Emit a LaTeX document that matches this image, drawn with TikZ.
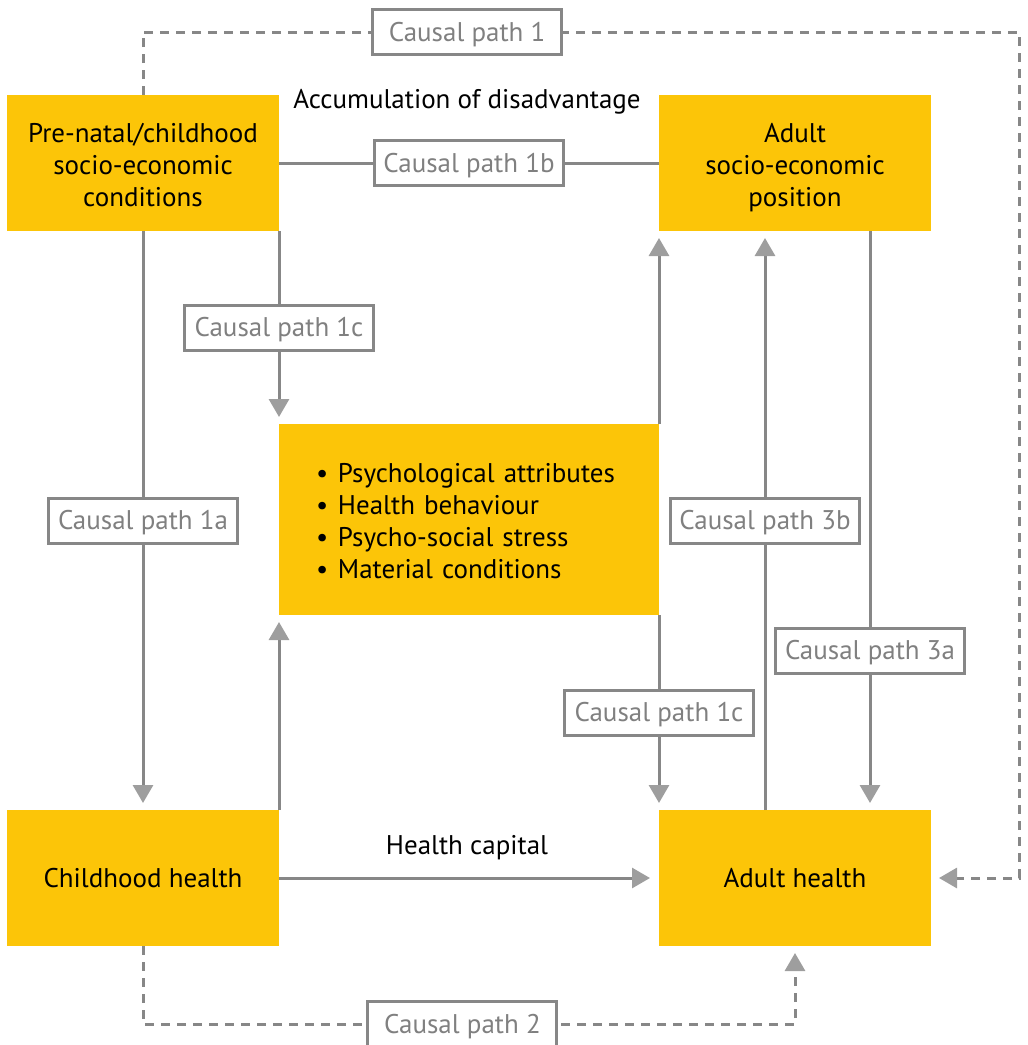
\documentclass[tikz,border=0pt]{standalone}
\usepackage{fontspec}
\setmainfont{PT Sans}
\usetikzlibrary{arrows.meta,positioning,calc}
\definecolor{boxyellow}{RGB}{252,197,8}
\definecolor{linegrey}{RGB}{135,135,135}
\definecolor{tipgrey}{RGB}{158,158,158}
\definecolor{labelgrey}{RGB}{128,128,128}
\newcommand{\pathstrut}{\rule[-7pt]{0pt}{32pt}}

\begin{document}
\begin{tikzpicture}[x=1pt,y=-1pt,line width=3pt,font=\fontsize{27}{32}\selectfont,node distance=380pt]
    \tikzstyle{txt}=[execute at begin node=\pathstrut, execute at end node=\pathstrut]
    \tikzstyle{stage}=[txt, rectangle, fill=boxyellow, minimum width=272pt, minimum height=136pt, align=center, text=black, inner sep=0pt, outer sep=0pt]
    \tikzstyle{threeline}=[text height=91pt, text depth=5pt]
    \tikzstyle{causal}=[txt, rectangle, draw=linegrey, fill=white, solid, line width=3pt, minimum width=189pt, minimum height=45pt, text=labelgrey, inner sep=0pt]
    \tikzstyle{link}=[draw=linegrey, line width=3pt]
    \tikzstyle{arr}=[link, -{Triangle[width=20pt,length=18pt,color=tipgrey]}, shorten >=7pt]
    \tikzstyle{dlink}=[link, dash pattern=on 9pt off 7pt]

    \useasboundingbox (0,0) rectangle (1028,1045);

    % the four life stages
    \node[stage, threeline] (pn) at (143,163) {Pre-natal/childhood\\socio-economic\\conditions};
    \node[stage, threeline] (ase) [right=380pt of pn] {Adult\\socio-economic\\position};
    \node[stage]          (ch) [below=579pt of pn] {Childhood health};
    \node[stage]          (ah) [below=579pt of ase] {Adult health};

    % intermediate factors
    \node[stage, minimum width=380pt, minimum height=191pt, text width=306pt, inner xsep=37pt, align=left, text height=27pt, text depth=101pt] (mid) at (469,519.5)
      {\makebox[22pt][l]{\textbullet}Psychological attributes\\
       \makebox[22pt][l]{\textbullet}Health behaviour\\
       \makebox[22pt][l]{\textbullet}Psycho-social stress\\
       \makebox[22pt][l]{\textbullet}Material conditions};

    \node[txt] (acc) at (467,99) {Accumulation of disadvantage};
    \node[txt] (hcap) at (467,845) {Health capital};

    \coordinate (c1) at (1019,32);
    \coordinate (c2) at (795,1024);

    % causal paths
    \draw[link] (pn.east) -- node[causal] {Causal path 1b} (ase.west);
    \draw[arr] (pn.south east) -- node[causal] {Causal path 1c} (mid.north west);
    \draw[arr] (pn.south) -- node[causal] {Causal path 1a} (ch.north);
    \draw[arr] (ch.north east) -- (mid.south west);
    \draw[arr] (mid.north east) -- (ase.south west);
    \draw[arr] (mid.south east) -- node[causal] {Causal path 1c} (ah.north west);
    \draw[arr] ([xshift=-30pt]ah.north) -- node[causal] {Causal path 3b} ([xshift=-30pt]ase.south);
    \draw[arr] ([xshift=75pt]ase.south) -- node[causal, pos=0.725] {Causal path 3a} ([xshift=75pt]ah.north);
    \draw[arr, shorten >=9pt] (ch.east) -- (ah.west);
    \draw[arr, dlink, shorten >=8pt] (pn.north) |- node[causal, pos=0.685] {Causal path 1} (c1) |- (ah.east);
    \draw[arr, dlink] (ch.south) |- node[causal, pos=0.745] {Causal path 2} (c2) -- (ah.south);

  \end{tikzpicture}
\end{document}
